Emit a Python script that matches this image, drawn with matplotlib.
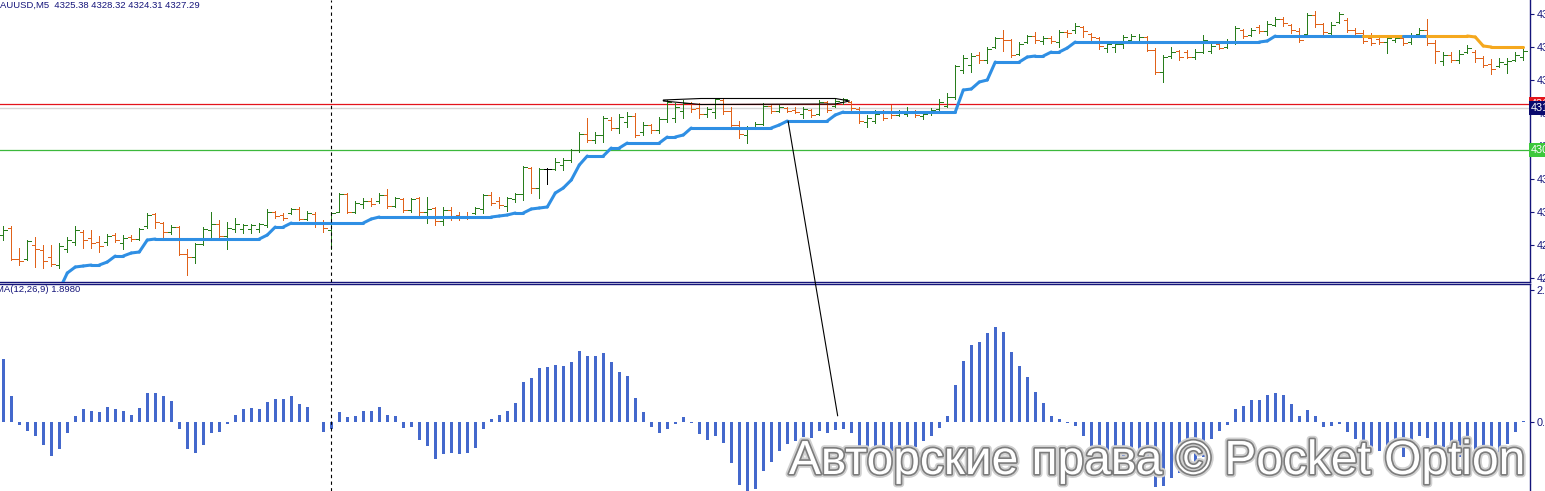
import matplotlib
matplotlib.use('Agg')
import matplotlib.pyplot as plt
import matplotlib.patheffects as pe
import matplotlib.transforms as mtransforms
from matplotlib.collections import LineCollection
from matplotlib.patches import Polygon, ConnectionPatch
import numpy as np

nan = np.nan

# ---- price bars (M5) ----
opens = [
    4299.5, 4300.2, 4297.1, 4297.1, 4298.5, 4298.0, 4297.3, 4296.5, 4298.1, 4298.8,
    4299.8, 4299.2, 4298.8, 4298.8, 4299.5, 4298.7, 4299.3, 4299.1, 4300.4, 4301.6,
    4300.7, 4299.8, 4300.3, 4297.6, 4297.3, 4298.6, 4300.0, 4300.6, 4299.4, 4300.1,
    4300.1, 4300.1, 4300.1, 4300.5, 4301.8, 4301.5, 4301.7, 4302.1, 4301.1, 4301.6,
    4300.7, 4300.0, 4301.8, 4303.6, 4301.8, 4302.6, 4302.9, 4302.9, 4303.5, 4302.4,
    4303.1, 4302.0, 4303.2, 4301.8, 4302.2, 4300.9, 4302.0, 4301.5, 4301.4, 4301.7,
    4302.1, 4303.5, 4302.9, 4302.4, 4303.1, 4303.6, 4306.2, 4304.2, 4306.1, 4306.1,
    4306.5, 4307.0, 4308.0, 4309.6, 4309.0, 4309.5, 4311.0, 4310.2, 4310.8, 4311.4,
    4309.8, 4310.5, 4310.0, 4311.1, 4311.2, 4311.9, 4312.7, 4312.2, 4311.6, 4311.8,
    4313.0, 4311.9, 4310.5, 4309.5, 4310.3, 4310.6, 4312.4, 4311.9, 4312.2, 4312.0,
    4311.6, 4312.0, 4311.6, 4312.8, 4312.4, 4312.8, 4312.8, 4312.1, 4310.8, 4310.9,
    4311.7, 4311.8, 4311.5, 4311.6, 4311.8, 4311.4, 4311.7, 4312.1, 4312.4, 4313.3,
    4316.0, 4316.5, 4317.5, 4317.0, 4318.3, 4319.2, 4319.0, 4317.6, 4318.8, 4319.4,
    4318.9, 4319.2, 4318.8, 4319.8, 4320.0, 4320.3, 4319.6, 4319.2, 4318.2, 4318.3,
    4318.6, 4319.0, 4318.9, 4319.3, 4318.0, 4315.8, 4317.4, 4317.9, 4317.8, 4317.3,
    4317.8, 4317.9, 4318.6, 4318.3, 4318.8, 4320.0, 4319.5, 4320.3, 4319.9, 4320.5,
    4321.1, 4320.5, 4319.9, 4319.6, 4321.5, 4320.6, 4319.7, 4320.8, 4321.0, 4320.0,
    4319.7, 4319.2, 4319.1, 4318.8, 4319.0, 4319.2, 4318.8, 4319.6, 4320.0, 4318.7,
    4316.9, 4317.5, 4317.0, 4317.8, 4317.8, 4317.2, 4316.6, 4316.4, 4316.6, 4317.0,
    4317.3]
highs = [
    4300.4, 4300.4, 4298.2, 4299.0, 4299.3, 4298.5, 4298.5, 4298.7, 4299.3, 4300.4,
    4300.0, 4300.0, 4299.4, 4299.6, 4299.7, 4299.5, 4299.5, 4300.2, 4301.7, 4301.7,
    4300.8, 4300.5, 4300.4, 4298.1, 4298.7, 4300.3, 4301.8, 4301.0, 4300.8, 4301.2,
    4300.6, 4300.6, 4300.7, 4302.1, 4301.9, 4301.7, 4302.2, 4302.3, 4301.9, 4301.8,
    4301.0, 4301.8, 4303.7, 4303.7, 4302.9, 4303.2, 4303.2, 4303.7, 4304.1, 4303.3,
    4303.2, 4303.2, 4303.3, 4303.3, 4302.3, 4302.3, 4302.3, 4301.8, 4301.8, 4302.3,
    4303.6, 4303.8, 4303.3, 4303.3, 4303.7, 4306.4, 4306.3, 4306.2, 4306.2, 4307.2,
    4307.2, 4308.1, 4309.8, 4311.2, 4309.8, 4311.4, 4311.3, 4311.6, 4311.8, 4311.7,
    4310.8, 4310.6, 4311.3, 4313.0, 4312.7, 4313.0, 4312.8, 4312.7, 4312.3, 4313.2,
    4313.1, 4312.3, 4310.9, 4310.4, 4310.8, 4312.7, 4312.5, 4312.5, 4312.3, 4312.3,
    4312.3, 4312.1, 4313.0, 4312.9, 4313.1, 4313.2, 4312.9, 4312.3, 4311.5, 4312.0,
    4312.0, 4312.5, 4312.0, 4312.3, 4312.0, 4311.8, 4312.2, 4313.1, 4313.7, 4316.5,
    4317.5, 4317.7, 4317.8, 4318.3, 4319.3, 4320.0, 4319.1, 4318.8, 4319.5, 4319.8,
    4319.4, 4319.4, 4320.0, 4320.0, 4320.7, 4320.4, 4319.7, 4319.3, 4318.9, 4318.8,
    4319.5, 4319.6, 4319.6, 4319.4, 4318.2, 4317.5, 4318.3, 4318.0, 4318.0, 4318.1,
    4319.5, 4318.8, 4318.7, 4319.1, 4320.4, 4320.1, 4320.2, 4320.5, 4320.9, 4321.3,
    4321.3, 4320.6, 4320.2, 4321.7, 4321.9, 4320.7, 4320.8, 4321.8, 4321.2, 4320.2,
    4320.0, 4319.7, 4319.5, 4319.5, 4319.4, 4319.5, 4319.7, 4320.2, 4321.1, 4319.0,
    4317.8, 4317.8, 4318.0, 4318.5, 4318.0, 4317.4, 4317.1, 4317.2, 4317.2, 4317.8,
    4318.2]
lows = [
    4299.0, 4297.0, 4296.5, 4297.0, 4296.3, 4296.2, 4296.4, 4296.2, 4297.8, 4298.5,
    4298.2, 4298.2, 4297.8, 4298.5, 4298.8, 4298.1, 4298.9, 4299.0, 4300.2, 4300.2,
    4299.3, 4299.6, 4297.5, 4295.5, 4296.7, 4298.5, 4299.0, 4299.2, 4298.1, 4299.8,
    4299.7, 4299.7, 4299.8, 4300.3, 4301.2, 4301.0, 4301.6, 4301.0, 4301.0, 4300.3,
    4299.8, 4298.1, 4301.8, 4301.7, 4301.7, 4302.2, 4302.4, 4302.7, 4302.2, 4302.3,
    4301.8, 4301.8, 4301.3, 4300.7, 4300.5, 4300.5, 4301.0, 4301.0, 4301.1, 4301.6,
    4301.7, 4302.5, 4302.2, 4301.9, 4302.8, 4303.0, 4303.7, 4303.2, 4304.6, 4306.0,
    4306.0, 4306.8, 4307.8, 4308.8, 4308.7, 4308.8, 4310.0, 4309.7, 4310.3, 4309.3,
    4309.5, 4309.7, 4309.7, 4310.8, 4310.8, 4311.2, 4311.8, 4311.2, 4311.3, 4311.2,
    4311.6, 4310.3, 4309.2, 4308.7, 4310.2, 4310.5, 4311.7, 4311.8, 4311.8, 4311.7,
    4311.2, 4311.3, 4311.5, 4311.8, 4312.3, 4312.6, 4312.0, 4310.7, 4310.3, 4310.7,
    4311.0, 4311.2, 4311.4, 4311.4, 4311.3, 4311.1, 4311.5, 4312.0, 4312.3, 4313.1,
    4315.7, 4315.8, 4316.7, 4316.7, 4318.2, 4317.9, 4317.3, 4317.5, 4318.7, 4318.7,
    4318.6, 4318.7, 4318.3, 4319.3, 4319.7, 4319.3, 4319.0, 4318.1, 4317.8, 4317.8,
    4318.2, 4318.7, 4318.7, 4317.9, 4315.6, 4314.8, 4317.2, 4317.0, 4317.2, 4317.1,
    4317.7, 4317.7, 4318.1, 4318.2, 4318.6, 4319.2, 4319.4, 4319.7, 4319.5, 4320.4,
    4320.4, 4319.7, 4318.8, 4319.5, 4320.3, 4319.5, 4319.5, 4320.7, 4319.8, 4319.5,
    4318.7, 4318.5, 4318.6, 4317.7, 4318.8, 4318.5, 4318.6, 4319.5, 4318.5, 4316.7,
    4316.5, 4316.8, 4316.7, 4317.7, 4316.8, 4316.3, 4315.6, 4316.3, 4315.7, 4316.9,
    4317.0]
closes = [
    4300.0, 4297.1, 4296.9, 4298.9, 4298.1, 4296.9, 4296.6, 4298.4, 4299.0, 4300.0,
    4299.0, 4298.7, 4298.4, 4299.4, 4299.0, 4299.2, 4299.1, 4300.1, 4301.5, 4300.8,
    4299.8, 4300.3, 4297.6, 4297.3, 4298.6, 4300.1, 4300.6, 4299.4, 4300.2, 4300.6,
    4300.5, 4300.5, 4300.6, 4301.8, 4301.4, 4301.2, 4302.1, 4301.1, 4301.7, 4300.6,
    4300.2, 4301.7, 4303.6, 4301.8, 4302.7, 4302.9, 4302.6, 4303.5, 4302.4, 4303.2,
    4302.0, 4303.1, 4301.8, 4302.1, 4300.9, 4302.0, 4301.2, 4301.3, 4301.3, 4302.2,
    4303.5, 4302.7, 4302.5, 4303.2, 4303.6, 4306.3, 4304.2, 4306.1, 4306.1, 4306.8,
    4307.0, 4308.0, 4309.6, 4309.0, 4309.5, 4311.2, 4310.2, 4311.3, 4311.4, 4309.5,
    4310.5, 4310.0, 4311.1, 4312.8, 4312.3, 4312.7, 4312.1, 4311.6, 4312.1, 4313.1,
    4311.9, 4310.5, 4309.6, 4310.2, 4310.6, 4312.4, 4311.9, 4312.3, 4311.9, 4311.8,
    4312.1, 4311.5, 4312.8, 4312.0, 4312.9, 4313.1, 4312.2, 4310.9, 4311.2, 4311.6,
    4311.2, 4311.5, 4311.7, 4311.9, 4311.5, 4311.6, 4312.0, 4312.8, 4313.3, 4316.4,
    4317.2, 4317.4, 4317.0, 4318.1, 4319.2, 4319.0, 4317.5, 4318.6, 4319.4, 4319.0,
    4319.2, 4318.9, 4319.8, 4319.7, 4320.4, 4319.9, 4319.3, 4318.4, 4318.6, 4318.6,
    4319.3, 4319.4, 4319.3, 4318.0, 4315.8, 4317.3, 4317.8, 4317.3, 4317.3, 4317.8,
    4319.0, 4318.4, 4318.2, 4318.9, 4320.2, 4319.4, 4320.0, 4319.9, 4320.6, 4321.1,
    4320.7, 4320.0, 4319.0, 4321.5, 4320.6, 4319.8, 4320.5, 4321.6, 4320.0, 4319.7,
    4318.9, 4318.7, 4318.8, 4319.2, 4319.2, 4318.7, 4319.5, 4320.0, 4318.7, 4317.9,
    4317.5, 4317.0, 4317.6, 4318.2, 4317.2, 4316.5, 4316.1, 4316.8, 4316.9, 4317.5,
    4317.9]

# trailing stop line
trail = [
    nan, nan, nan, nan, nan, nan, nan, 4294.0, 4295.7, 4296.3,
    4296.4, 4296.5, 4296.5, 4296.8, 4297.4, 4297.4, 4297.7, 4297.8, 4299.0, 4299.1,
    4299.1, 4299.1, 4299.1, 4299.1, 4299.1, 4299.1, 4299.1, 4299.1, 4299.1, 4299.1,
    4299.1, 4299.1, 4299.1, 4299.5, 4300.3, 4300.3, 4300.7, 4300.7, 4300.7, 4300.7,
    4300.7, 4300.7, 4300.7, 4300.7, 4300.7, 4300.7, 4301.1, 4301.3, 4301.3, 4301.3,
    4301.3, 4301.3, 4301.3, 4301.3, 4301.3, 4301.3, 4301.3, 4301.3, 4301.3, 4301.3,
    4301.3, 4301.3, 4301.4, 4301.5, 4301.7, 4301.7, 4302.1, 4302.2, 4302.3, 4303.7,
    4304.2, 4305.0, 4306.5, 4307.4, 4307.4, 4307.4, 4308.2, 4308.2, 4308.7, 4308.7,
    4308.7, 4308.7, 4308.7, 4309.3, 4309.3, 4309.5, 4310.2, 4310.2, 4310.2, 4310.2,
    4310.2, 4310.2, 4310.2, 4310.2, 4310.2, 4310.2, 4310.2, 4310.5, 4310.9, 4310.9,
    4310.9, 4310.9, 4310.9, 4310.9, 4311.5, 4311.8, 4311.8, 4311.8, 4311.8, 4311.8,
    4311.8, 4311.8, 4311.8, 4311.8, 4311.8, 4311.8, 4311.8, 4311.8, 4311.8, 4311.8,
    4314.0, 4314.1, 4314.8, 4315.0, 4316.8, 4316.8, 4316.8, 4316.8, 4317.3, 4317.4,
    4317.4, 4317.8, 4317.8, 4318.2, 4318.8, 4318.8, 4318.8, 4318.8, 4318.8, 4318.8,
    4318.8, 4318.8, 4318.8, 4318.8, 4318.8, 4318.8, 4318.8, 4318.8, 4318.8, 4318.8,
    4318.8, 4318.8, 4318.8, 4318.8, 4318.8, 4318.8, 4318.8, 4318.8, 4318.9, 4319.4,
    4319.4, 4319.4, 4319.4, 4319.4, 4319.4, 4319.4, 4319.4, 4319.4, 4319.4, 4319.4,
    4319.4, 4319.4, 4319.4, 4319.4, 4319.4, 4319.4, 4319.4, 4319.4, 4319.4, 4319.4,
    4319.4, 4319.4, 4319.4, 4319.4, 4319.3, 4318.4, 4318.3, 4318.3, 4318.3, 4318.3,
    4318.3]
# bar ranges where the trailing line is in "down" mode (orange)
trail_down_spans = [(170, 175), (178, 190)]

# OsMA(12,26,9) histogram
osma = [
    1.33, 0.545, -0.057, -0.19, -0.30, -0.49, -0.72, -0.58, -0.23, 0.12,
    0.27, 0.23, 0.21, 0.31, 0.27, 0.23, 0.14, 0.29, 0.62, 0.62,
    0.545, 0.44, -0.15, -0.58, -0.66, -0.49, -0.23, -0.21, -0.05, 0.14,
    0.28, 0.29, 0.27, 0.42, 0.48, 0.48, 0.545, 0.375, 0.31, 0.01,
    -0.21, -0.15, 0.21, 0.10, 0.12, 0.23, 0.23, 0.31, 0.14, 0.12,
    -0.13, -0.11, -0.39, -0.51, -0.78, -0.68, -0.66, -0.68, -0.66, -0.55,
    -0.15, 0.057, 0.14, 0.23, 0.40, 0.84, 0.93, 1.14, 1.16, 1.20,
    1.18, 1.27, 1.50, 1.41, 1.39, 1.46, 1.27, 1.05, 0.97, 0.50,
    0.21, -0.11, -0.23, -0.15, -0.04, 0.10, -0.015, -0.25, -0.38, -0.30,
    -0.445, -0.87, -1.34, -1.46, -1.42, -1.04, -0.85, -0.615, -0.47, -0.40,
    -0.32, -0.34, -0.19, -0.23, -0.18, -0.15, -0.23, -0.53, -0.64, -0.64,
    -0.68, -0.615, -0.53, -0.53, -0.53, -0.40, -0.30, -0.13, 0.12, 0.78,
    1.29, 1.63, 1.69, 1.88, 2.01, 1.90, 1.48, 1.18, 0.95, 0.63,
    0.40, 0.12, 0.057, -0.02, -0.085, -0.30, -0.51, -0.615, -0.74, -0.81,
    -0.85, -0.85, -0.89, -0.85, -1.38, -1.36, -1.19, -1.08, -1.04, -0.93,
    -0.74, -0.36, -0.19, -0.064, 0.28, 0.33, 0.47, 0.47, 0.57, 0.61,
    0.57, 0.375, 0.12, 0.25, 0.12, -0.11, -0.085, -0.04, -0.21, -0.36,
    -0.85, -0.64, -0.615, -0.615, -0.59, -0.74, -0.445, -0.30, -0.34, -0.53,
    -0.53, -0.81, -0.74, -0.74, -0.70, -0.68, -0.70, -0.64, -0.47, -0.21,
    0.02]

# horizontal levels
level_red = 4312.6
level_bid = 4312.2
level_green = 4308.0

price_ticks = [4295.2, 4298.5, 4301.8, 4305.1, 4308.4, 4311.7, 4315.0, 4318.3, 4321.6]
osma_ticks = [2.8, 0.0]
osma_ticklabels = ['2.8135', '0.0000']

header = 'AUUSD,M5  4325.38 4328.32 4324.31 4327.29'
osma_title = 'MA(12,26,9) 1.8980'
watermark = 'Авторские права © Pocket Option'

crosshair_bar = 41
trend_start = (98.1, 4310.9)   # upper panel
trend_end = (104.3, 0.13)       # lower panel
shape_pts = [(82.5, 4313.0), (87.2, 4313.15), (104.0, 4313.15), (105.8, 4312.9),
             (104.0, 4312.6), (87.2, 4312.55), (82.5, 4312.9)]

# ---- styling ----
plt.rcParams['font.family'] = ['Liberation Sans', 'DejaVu Sans']
NAVY = '#14147a'
GREEN = '#287d1c'
ORANGE = '#e0621a'
BLUE = '#2f8fe4'
AMBER = '#f5a81e'
HIST = '#4468cc'

W, H = 1545, 491
fig = plt.figure(figsize=(W / 100, H / 100), dpi=100)
ax1 = fig.add_axes([0, 1 - 282 / H, 1530 / W, 282 / H])
ax2 = fig.add_axes([0, 0, 1530 / W, 207 / H])

x = np.arange(len(closes))
xlim = (-0.41, 190.84)

for ax in (ax1, ax2):
    ax.set_xlim(*xlim)
    ax.set_xticks([])
    ax.yaxis.tick_right()
    ax.tick_params(axis='y', length=3, width=0.8, color=NAVY, labelcolor=NAVY,
                   labelsize=7.8, pad=2)
    ax.spines['left'].set_visible(False)
    for s in ('right', 'top', 'bottom'):
        ax.spines[s].set_color(NAVY)
        ax.spines[s].set_linewidth(1.0)
ax1.spines['top'].set_visible(False)
ax2.spines['bottom'].set_visible(False)

# upper panel
ax1.set_ylim(4294.8, 4323.0)
ax1.set_yticks(price_ticks)
ax1.set_yticklabels(['%.2f' % t for t in price_ticks])

ax1.axhline(level_red, color='#e3141c', lw=0.9, zorder=1)
ax1.axhline(level_bid, color='#d6d6d6', lw=1.0, zorder=1)
ax1.axhline(level_green, color='#3cb83c', lw=0.9, zorder=1)

o = np.array(opens); h = np.array(highs); l = np.array(lows); c = np.array(closes)
cols = [GREEN if cc > oo else (ORANGE if cc < oo else 'black') for oo, cc in zip(o, c)]
ax1.vlines(x, l, h, colors=cols, lw=0.72, zorder=2, antialiased=False)
ax1.hlines(o, x - 0.42, x, colors=cols, lw=0.72, zorder=2, antialiased=False)
ax1.hlines(c, x, x + 0.42, colors=cols, lw=0.72, zorder=2, antialiased=False)

tr = np.array(trail)
segs, seg_cols = [], []
for i in range(len(tr) - 1):
    if np.isnan(tr[i]) or np.isnan(tr[i + 1]):
        continue
    down = any(a <= i < b for a, b in trail_down_spans)
    segs.append([(x[i], tr[i]), (x[i + 1], tr[i + 1])])
    seg_cols.append(AMBER if down else BLUE)
ax1.add_collection(LineCollection(segs, colors=seg_cols, linewidths=2.2,
                                  capstyle='round', zorder=3))

ax1.add_patch(Polygon(shape_pts, closed=True, fill=False, edgecolor='black',
                      lw=0.8, zorder=4))

# right-side price tags
btr = mtransforms.blended_transform_factory(ax1.transAxes, ax1.transData)
for val, fc in ((level_red, '#e3141c'), (level_bid, '#0a0a6e'), (level_green, '#3cc83c')):
    ax1.text(1.0007, val, '%.2f' % val, transform=btr, ha='left', va='center',
             fontsize=7.8, color='white', clip_on=False, zorder=5,
             bbox=dict(boxstyle='square,pad=0.15', fc=fc, ec='none'))

# lower panel
ax2.set_ylim(-1.464, 2.927)
ax2.bar(x, osma, width=0.38, color=HIST, linewidth=0, zorder=2)
ax2.set_yticks(osma_ticks)
ax2.set_yticklabels(osma_ticklabels)

for ax in (ax1, ax2):
    ax.axvline(crosshair_bar, color='black', lw=0.8, ls=(0, (3, 3)), zorder=4)

con = ConnectionPatch(xyA=trend_start, coordsA=ax1.transData,
                      xyB=trend_end, coordsB=ax2.transData,
                      color='black', lw=0.8, zorder=6)
fig.add_artist(con)

fig.text(0, 1 - 1 / H, header, ha='left', va='top', fontsize=6.8, color=NAVY)
fig.text(-4 / W, 1 - 285 / H, osma_title, ha='left', va='top', fontsize=6.8, color=NAVY)

fig.text(1157 / W, 1 - 474 / H, watermark, ha='center', va='baseline',
         fontsize=34.5, color='white', zorder=10,
         path_effects=[pe.Stroke(linewidth=5, foreground='#d0d0d0'),
                       pe.Stroke(linewidth=2.4, foreground='#7c7c7c'),
                       pe.Normal()])

fig.savefig('out.png', dpi=100)
